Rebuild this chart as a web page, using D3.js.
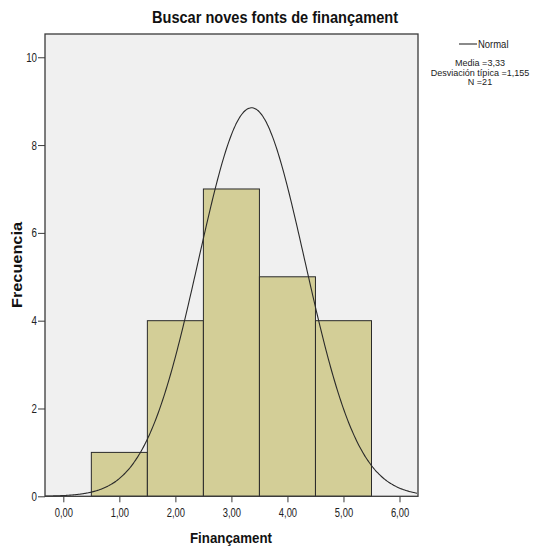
<!DOCTYPE html>
<html><head><meta charset="utf-8">
<script src="https://cdn.jsdelivr.net/npm/d3@7"></script>
<style>body{margin:0;background:#fff}svg{display:block}</style>
</head><body>
<script>
const binStarts = [0.5, 1.5, 2.5, 3.5, 4.5];
const binEnds = [1.5, 2.5, 3.5, 4.5, 5.5];
const counts = [1, 4, 7, 5, 4];
const xTicks = [0, 1, 2, 3, 4, 5, 6];
const xTickLabels = ["0,00", "1,00", "2,00", "3,00", "4,00", "5,00", "6,00"];
const yTicks = [0, 2, 4, 6, 8, 10];
const yTickLabels = ["0", "2", "4", "6", "8", "10"];
const legendLines = ["Media =3,33", "Desviación típica =1,155", "N =21"];
// normal curve as drawn
const curveMean = 3.36, curveSd = 0.95, curvePeak = 8.85;

const W = 539, H = 552;
const L = 45, R = 418, T = 34, B = 496.3;
const font = "'Liberation Sans', Arial, sans-serif";

function squeeze(sel, k) {
  sel.each(function () {
    const w = this.getComputedTextLength();
    d3.select(this).attr("textLength", w * k).attr("lengthAdjust", "spacingAndGlyphs");
  });
}

const svg = d3.select("body").append("svg").attr("width", W).attr("height", H);
const x = d3.scaleLinear().domain([-0.327, 6.33]).range([L, R]);
const y = d3.scaleLinear().domain([0, 10.53]).range([B, T]);

svg.append("rect").attr("x", L).attr("y", T).attr("width", R - L).attr("height", B - T)
  .attr("fill", "#f0f0f0");

svg.append("g").selectAll("rect").data(counts).join("rect")
  .attr("x", (d, i) => x(binStarts[i]))
  .attr("width", (d, i) => x(binEnds[i]) - x(binStarts[i]))
  .attr("y", d => y(d))
  .attr("height", d => y(0) - y(d))
  .attr("fill", "#d3ce97")
  .attr("stroke", "#2a2a2a").attr("stroke-width", 1);

const xs = d3.range(-0.327, 6.331, 0.02);
const line = d3.line().x(d => x(d)).y(d => y(curvePeak * Math.exp(-((d - curveMean) ** 2) / (2 * curveSd * curveSd)))).curve(d3.curveBasis);
svg.append("path").datum(xs).attr("d", line).attr("fill", "none").attr("stroke", "#2a2a2a").attr("stroke-width", 1.1);

// frame
svg.append("rect").attr("x", L).attr("y", T).attr("width", R - L).attr("height", B - T)
  .attr("fill", "none").attr("stroke", "#3a3a3a").attr("stroke-width", 1.3);

const xa = svg.append("g").attr("transform", `translate(0,${B})`)
  .call(d3.axisBottom(x).tickValues(xTicks).tickFormat((d, i) => xTickLabels[i]).tickSize(6).tickPadding(6));
xa.select(".domain").remove();
xa.selectAll("line").attr("stroke", "#3a3a3a");
xa.selectAll("text").attr("font-family", font).attr("font-size", 12.5).attr("fill", "#222").call(squeeze, 0.75);

const ya = svg.append("g").attr("transform", `translate(${L},0)`)
  .call(d3.axisLeft(y).tickValues(yTicks).tickFormat((d, i) => yTickLabels[i]).tickSize(7).tickPadding(1));
ya.select(".domain").remove();
ya.selectAll("line").attr("stroke", "#3a3a3a");
ya.selectAll("text").attr("font-family", font).attr("font-size", 12.5).attr("fill", "#222").call(squeeze, 0.78);

svg.append("text").attr("x", 275).attr("y", 22.5).attr("text-anchor", "middle")
  .attr("font-family", font).attr("font-weight", "bold").attr("font-size", 16).attr("fill", "#111")
  .attr("textLength", 246).attr("lengthAdjust", "spacingAndGlyphs")
  .text("Buscar noves fonts de finançament");
svg.append("text").attr("x", 231).attr("y", 543).attr("text-anchor", "middle")
  .attr("font-family", font).attr("font-weight", "bold").attr("font-size", 15).attr("fill", "#111")
  .attr("textLength", 82).attr("lengthAdjust", "spacingAndGlyphs")
  .text("Finançament");
svg.append("text").attr("transform", "translate(21.5,265) rotate(-90)").attr("text-anchor", "middle")
  .attr("font-family", font).attr("font-weight", "bold").attr("font-size", 15).attr("fill", "#111")
  .attr("textLength", 86).attr("lengthAdjust", "spacingAndGlyphs")
  .text("Frecuencia");

// legend
svg.append("line").attr("x1", 459).attr("x2", 477).attr("y1", 44).attr("y2", 44).attr("stroke", "#2a2a2a").attr("stroke-width", 1.1);
svg.append("text").attr("x", 478).attr("y", 48).attr("font-family", font).attr("font-size", 11).attr("fill", "#222").text("Normal").call(squeeze, 0.86);
svg.append("g").selectAll("text").data(legendLines).join("text")
  .attr("x", 480).attr("y", (d, i) => 66 + i * 9.5).attr("text-anchor", "middle")
  .attr("font-family", font).attr("font-size", 9.5).attr("fill", "#222").text(d => d).call(squeeze, 0.95);
</script>
</body></html>
